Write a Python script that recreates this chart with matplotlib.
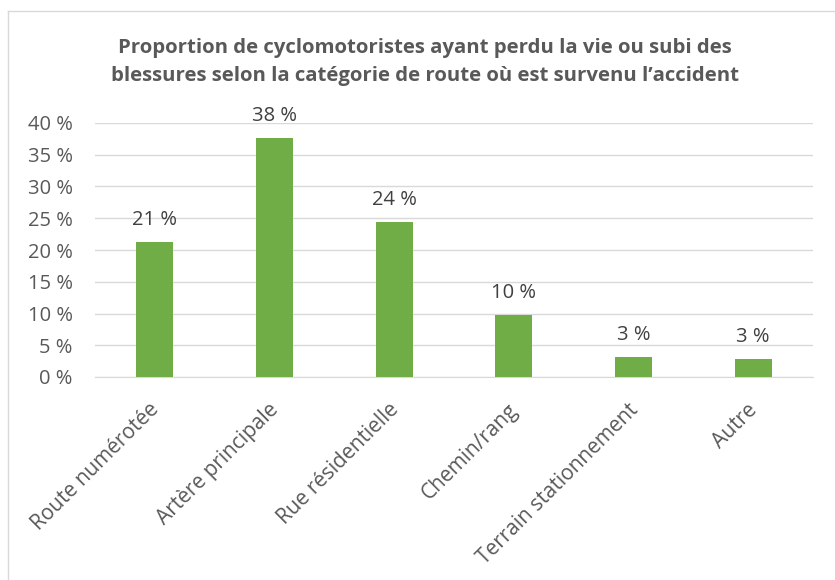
import matplotlib
matplotlib.use("Agg")
import matplotlib.pyplot as plt
from matplotlib.lines import Line2D
from matplotlib.transforms import ScaledTranslation

categories = ["Route numérotée", "Artère principale", "Rue résidentielle",
              "Chemin/rang", "Terrain stationnement", "Autre"]
values = [21.3, 37.7, 24.4, 9.7, 3.2, 2.9]
labels = ["21 %", "38 %", "24 %", "10 %", "3 %", "3 %"]
yticks = [0, 5, 10, 15, 20, 25, 30, 35, 40]
title = ("Proportion de cyclomotoristes ayant perdu la vie ou subi des\n"
         "blessures selon la catégorie de route où est survenu l’accident")

plt.rcParams['font.family'] = ['Open Sans', 'DejaVu Sans']
txt = '#595959'
green = '#70AD47'

W, H = 835, 580
fig = plt.figure(figsize=(W/100, H/100), dpi=100)
ax = fig.add_axes([95/W, 1-377/H, 718/W, 254/H])

x = list(range(len(categories)))
ax.bar(x, values, width=0.31, color=green, zorder=3)
for xi, v, l in zip(x, values, labels):
    ax.text(xi, v + 1.9, l, ha='center', va='bottom', fontsize=14.5, color='#404040')

ax.set_xlim(-0.5, len(categories) - 0.5)
ax.set_ylim(0, 40)
ax.set_yticks(yticks)
ax.set_yticklabels([f"{t} %" for t in yticks], fontsize=14.5, color=txt)
ax.yaxis.grid(True, color='#D9D9D9', linewidth=1, zorder=0)
ax.set_xticks(x)
ax.set_xticklabels(categories, rotation=45, ha='right', rotation_mode='anchor',
                   fontsize=15, color=txt)
ax.tick_params(axis='y', length=0, pad=16)
ax.tick_params(axis='x', length=0, pad=16)
off = ScaledTranslation(-6/100, 0, fig.dpi_scale_trans)
for lab in ax.get_xticklabels():
    lab.set_transform(lab.get_transform() + off)
for s in ['top', 'right', 'left']:
    ax.spines[s].set_visible(False)
ax.spines['bottom'].set_color('#D9D9D9')

fig.text(425/W, 1-62/H, title, ha='center', va='center', fontsize=14.7,
         fontweight='bold', color=txt, linespacing=1.5)

fig.add_artist(Line2D([8/W, 8/W], [0, 1-11/H], color='#D9D9D9', lw=1,
                      transform=fig.transFigure))
fig.add_artist(Line2D([8/W, 1], [1-11/H, 1-11/H], color='#D9D9D9', lw=1,
                      transform=fig.transFigure))

fig.savefig("out.png", dpi=100)
